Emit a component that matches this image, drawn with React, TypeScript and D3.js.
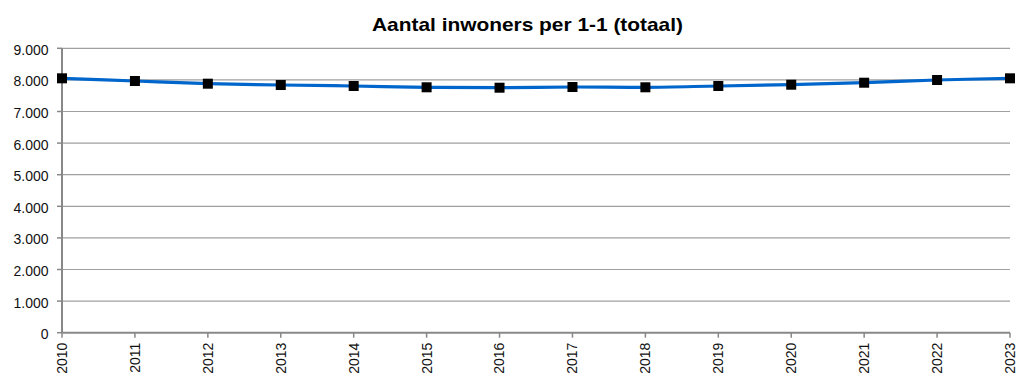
import React from "react";
import * as d3 from "d3";

const years = ["2010","2011","2012","2013","2014","2015","2016","2017","2018","2019","2020","2021","2022","2023"];
const inwoners = [8050, 7965, 7880, 7838, 7807, 7766, 7753, 7775, 7766, 7807, 7848, 7911, 7997, 8050];
const yTicks = [0, 1000, 2000, 3000, 4000, 5000, 6000, 7000, 8000, 9000];
const title = "Aantal inwoners per 1-1 (totaal)";

const W = 1016;
const H = 381;
const left = 62;
const right = 1010;
const top = 48.3;
const bottom = 332.7;

const fmt = (v: number) => (v === 0 ? "0" : d3.format(",")(v).replace(/,/g, "."));

export default function App() {
  const x = d3.scalePoint<string>().domain(years).range([left, right]);
  const y = d3.scaleLinear().domain([0, 9000]).range([bottom, top]);
  const line = d3
    .line<number>()
    .x((_, i) => x(years[i]) as number)
    .y((d) => y(d))
    .curve(d3.curveCatmullRom.alpha(0.5));

  const font = "'Liberation Sans', Arial, sans-serif";

  return (
    <svg width={W} height={H} style={{ position: "absolute", left: 0, top: 0 }} fontFamily={font}>
      <text
        x={372}
        y={31}
        fontSize={18.5}
        fontWeight="bold"
        fill="#000"
        textLength={311}
        lengthAdjust="spacingAndGlyphs"
      >
        {title}
      </text>
      {yTicks.map((t) => (
        <g key={t}>
          {t > 0 && <line x1={left} x2={right} y1={y(t)} y2={y(t)} stroke="#a0a0a0" strokeWidth={1.2} />}
          <line x1={left - 5} x2={left} y1={y(t)} y2={y(t)} stroke="#888" strokeWidth={1.5} />
          <text x={48.5} y={y(t) + 1.5} dy="0.35em" textAnchor="end" fontSize={14} fill="#111">
            {fmt(t)}
          </text>
        </g>
      ))}
      <line x1={left} x2={left} y1={top} y2={bottom} stroke="#888" strokeWidth={2} />
      <line x1={left} x2={right} y1={bottom} y2={bottom} stroke="#888" strokeWidth={2} />
      {years.map((yr) => {
        const px = x(yr) as number;
        return (
          <g key={yr}>
            <line x1={px} x2={px} y1={bottom} y2={bottom + 5} stroke="#888" strokeWidth={1.5} />
            <text
              transform={`translate(${px},${bottom + 10}) rotate(-90)`}
              dy="0.35em"
              textAnchor="end"
              fontSize={14}
              fill="#111"
            >
              {yr}
            </text>
          </g>
        );
      })}
      <path d={line(inwoners) ?? ""} fill="none" stroke="#0066cc" strokeWidth={3.2} />
      {inwoners.map((v, i) => (
        <rect
          key={years[i]}
          x={(x(years[i]) as number) - 5}
          y={y(v) - 5}
          width={10}
          height={10}
          fill="#000"
        />
      ))}
    </svg>
  );
}
